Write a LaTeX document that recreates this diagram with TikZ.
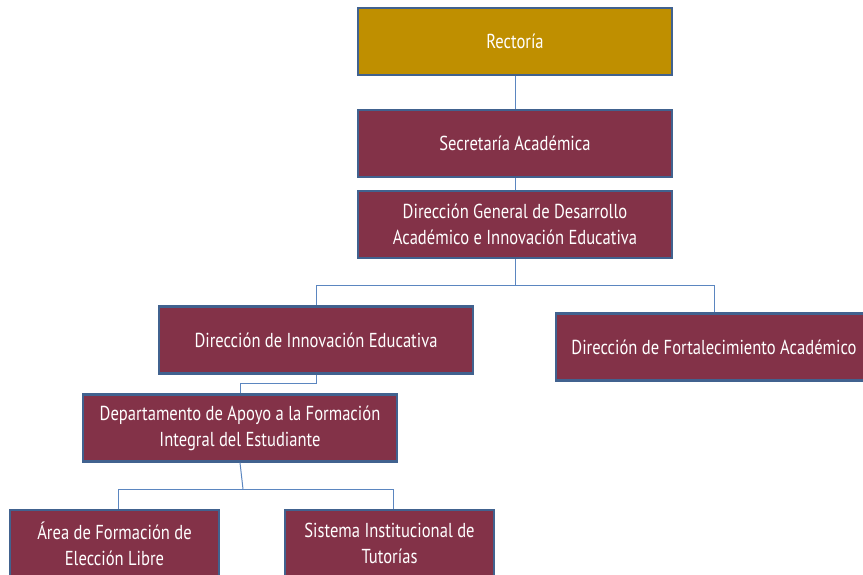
\documentclass[tikz,border=0pt]{standalone}
\usepackage{fontspec}
\setmainfont{PT Sans}[FakeStretch=0.82]
\definecolor{gold}{HTML}{BF8F00}
\definecolor{maroon}{HTML}{833248}
\definecolor{edge}{HTML}{41628F}
\definecolor{wire}{HTML}{5B86C0}
\begin{document}
\begin{tikzpicture}[x=1pt,y=-1pt,
  box/.style={draw=edge, line width=2.2pt, fill=maroon, text=white, align=center,
    minimum width=314pt, minimum height=67pt, inner sep=0pt, font=\fontsize{20.2}{26}\selectfont},
  small/.style={box, minimum width=209pt},
  wire/.style={draw=wire, line width=1pt}]
\useasboundingbox (0,0) rectangle (863,574);
\clip (0,0) rectangle (863,574);
\node[box, fill=gold] (rect) at (515,41.5) {Rectoría};
\node[box] (sec) at (515,143.5) {Secretaría Académica};
\node[box] (dg) at (515,224.5) {Dirección General de Desarrollo\\Académico e Innovación Educativa};
\node[box] (die) at (316,340) {Dirección de Innovación Educativa};
\node[box, minimum width=316pt] (dfa) at (714,347) {Dirección de Fortalecimiento Académico};
\node[box] (daf) at (240,428) {Departamento de Apoyo a la Formación\\Integral del Estudiante};
\node[small] (afel) at (114.5,543.5) {Área de Formación de\\Elección Libre};
\node[small] (sit) at (389.5,543.5) {Sistema Institucional de\\Tutorías};
\coordinate (j1) at (515,285);
\coordinate (j2) at (243,489);
\draw[wire] (rect.south) -- (sec.north);
\draw[wire] (sec.south) -- (dg.north);
\draw[wire] (dg.south) -- (j1) -| (die.north);
\draw[wire] (j1) -| (dfa.north);
\draw[wire] (die.south) -- ++(0,9) -| (daf.north);
\draw[wire] (daf.south) -- (j2);
\draw[wire] (j2) -| ([xshift=3.5pt]afel.north);
\draw[wire] (j2) -| ([xshift=3.5pt]sit.north);
\end{tikzpicture}
\end{document}
